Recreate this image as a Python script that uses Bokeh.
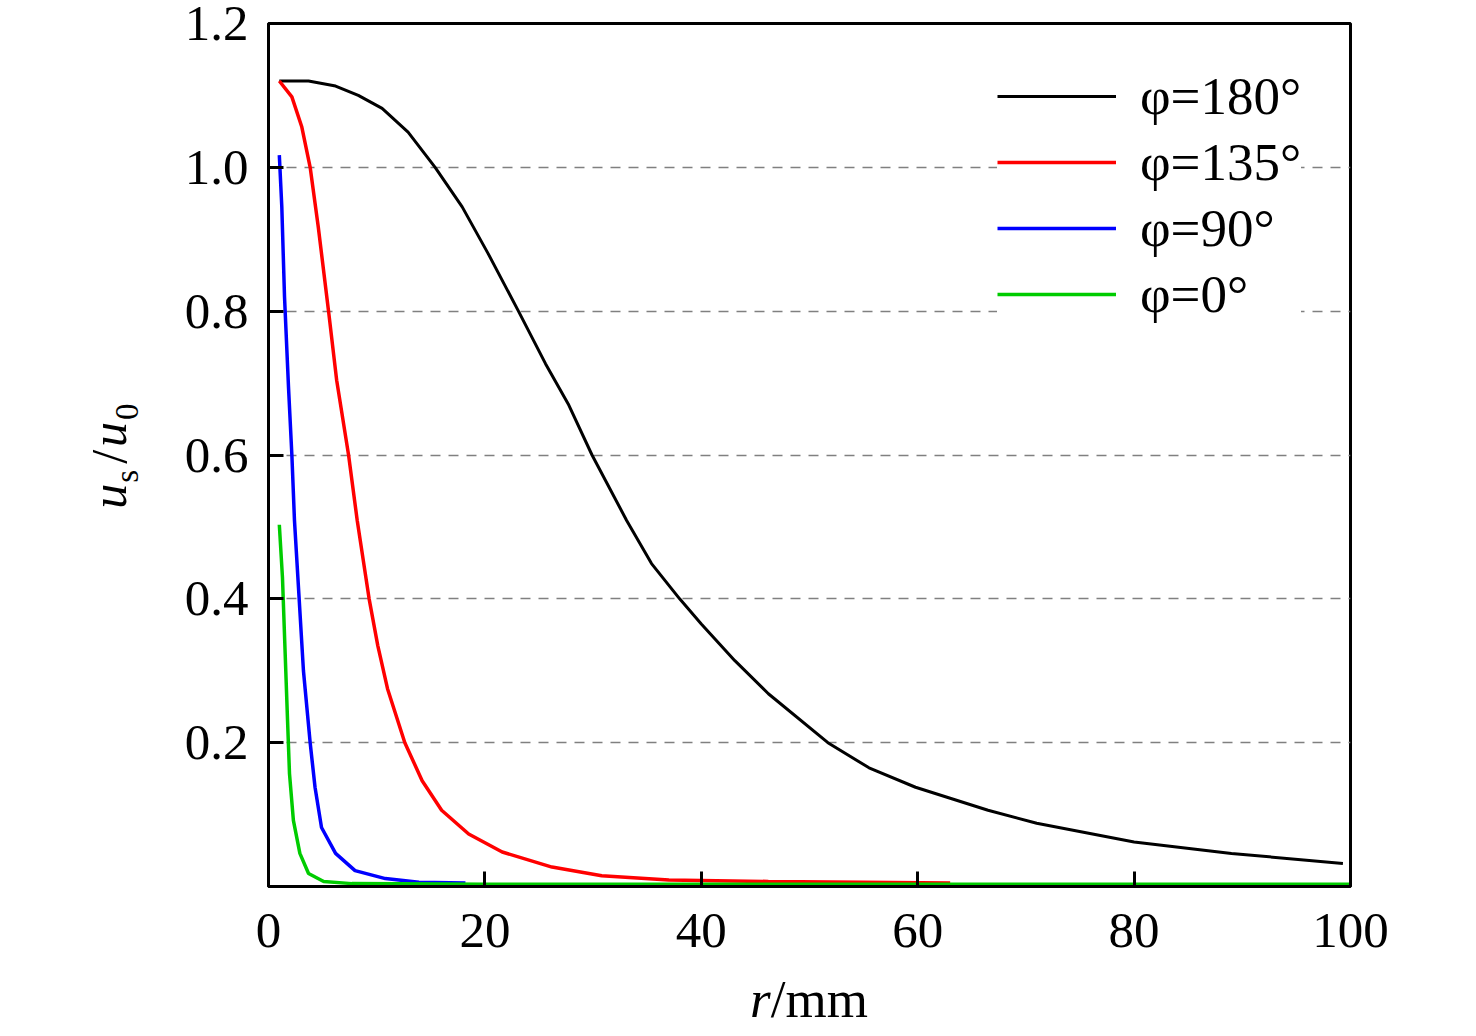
import math
from bokeh.plotting import figure
from bokeh.models import (Range1d, FixedTicker, Legend, LegendItem, Div)
from bokeh.layouts import row, column
from bokeh.embed import file_html
from bokeh.resources import INLINE

# ---- data ----
r_180 = [1.0, 3.7, 6.2, 8.3, 10.5, 12.9, 15.4, 17.9, 20.3, 23.1, 25.6, 27.7, 29.9,
         33.1, 35.4, 38.0, 40.0, 43.1, 46.2, 51.7, 55.5, 59.8, 66.5, 71.0, 80.0, 89.0, 99.3]
u_180 = [1.120, 1.120, 1.113, 1.100, 1.082, 1.049, 1.000, 0.945, 0.880, 0.800, 0.727, 0.671, 0.600,
         0.509, 0.449, 0.400, 0.365, 0.314, 0.268, 0.200, 0.165, 0.138, 0.106, 0.088, 0.062, 0.046, 0.032]

r_135 = [1.0, 2.16, 3.08, 3.85, 4.6, 5.55, 6.3, 7.4, 8.2, 9.3, 10.1, 11.0, 12.6, 14.2, 16.0,
         18.5, 21.6, 26.2, 30.8, 37.0, 46.2, 55.0, 63.0]
u_135 = [1.120, 1.098, 1.056, 1.000, 0.917, 0.800, 0.704, 0.600, 0.509, 0.400, 0.335, 0.275, 0.200,
         0.147, 0.106, 0.073, 0.048, 0.027, 0.015, 0.009, 0.007, 0.006, 0.005]

r_90 = [1.0, 1.23, 1.48, 1.85, 2.16, 2.4, 2.77, 3.23, 3.85, 4.3, 4.9, 6.2, 8.0, 10.8, 13.9, 18.2]
u_90 = [1.017, 0.945, 0.820, 0.694, 0.600, 0.509, 0.416, 0.300, 0.200, 0.138, 0.082, 0.046,
        0.022, 0.011, 0.006, 0.005]

r_0 = [1.0, 1.29, 1.54, 1.76, 1.94, 2.3, 2.9, 3.7, 5.1, 7.7, 20.0, 100.0]
u_0 = [0.503, 0.430, 0.324, 0.231, 0.157, 0.092, 0.046, 0.018, 0.007, 0.004, 0.003, 0.003]

series_labels = ["φ=180°", "φ=135°", "φ=90°", "φ=0°"]
series_colors = ["#000000", "#ff0000", "#0000ff", "#00cc00"]
series_widths = [3, 3.5, 3.5, 3.5]

x_ticks = [0, 20, 40, 60, 80, 100]
x_tick_labels = ["0", "20", "40", "60", "80", "100"]
y_ticks = [0.2, 0.4, 0.6, 0.8, 1.0, 1.2]
y_tick_labels = ["0.2", "0.4", "0.6", "0.8", "1.0", "1.2"]

FONT = "Liberation Serif"
FRAME_W, FRAME_H = 1082, 863
YLAB_W = 150          # width of the column holding the y-axis title
BORDER_L = 268 - YLAB_W
BORDER_T = 23
BORDER_B = 90
BORDER_R = 110
XLAB_H = 50

p = figure(frame_width=FRAME_W, frame_height=FRAME_H,
           x_range=Range1d(0, 100), y_range=Range1d(0, 1.2),
           output_backend="svg", toolbar_location=None,
           min_border_left=BORDER_L, min_border_right=BORDER_R,
           min_border_top=BORDER_T, min_border_bottom=BORDER_B)
p.background_fill_color = "white"
p.border_fill_color = "white"
p.outline_line_color = "black"
p.outline_line_width = 3

for ax in (p.xaxis[0], p.yaxis[0]):
    ax.axis_line_width = 3
    ax.axis_line_color = "black"
    ax.major_tick_in = 15
    ax.major_tick_out = 0
    ax.major_tick_line_width = 3
    ax.major_tick_line_color = "black"
    ax.minor_tick_in = 0
    ax.minor_tick_out = 0
    ax.major_label_text_font = FONT
    ax.major_label_text_font_size = "51px"
    ax.major_label_text_color = "black"

p.xaxis.ticker = FixedTicker(ticks=x_ticks)
p.xaxis.major_label_overrides = {t: s for t, s in zip(x_ticks, x_tick_labels)}
p.xaxis.major_label_standoff = 27
p.yaxis.ticker = FixedTicker(ticks=y_ticks)
p.yaxis.major_label_overrides = {t: s for t, s in zip(y_ticks, y_tick_labels)}
p.yaxis.major_label_standoff = 20

p.xgrid.visible = False
p.ygrid.ticker = FixedTicker(ticks=y_ticks)
p.ygrid.grid_line_color = "#808080"
p.ygrid.grid_line_width = 1.5
p.ygrid.grid_line_dash = "10 8"

renderers = []
for rr, uu, col, lw in zip([r_180, r_135, r_90, r_0], [u_180, u_135, u_90, u_0],
                           series_colors, series_widths):
    renderers.append(p.line(rr, uu, line_color=col, line_width=lw))

legend = Legend(items=[LegendItem(label=lab, renderers=[rd]) for lab, rd in zip(series_labels, renderers)],
                location=(729, 562))
legend.background_fill_color = "white"
legend.background_fill_alpha = 1.0
legend.border_line_color = None
legend.glyph_width = 119
legend.glyph_height = 60
legend.label_height = 60
legend.spacing = 6
legend.padding = 8
legend.margin = 0
legend.label_standoff = 24
legend.label_text_font = FONT
legend.label_text_font_size = "53px"
legend.label_text_color = "black"
legend.label_text_baseline = "middle"
p.add_layout(legend)

PLOT_H = BORDER_T + FRAME_H + BORDER_B
PLOT_W = BORDER_L + FRAME_W + BORDER_R

# y-axis title: u_s / u_0 (italic variables, upright subscripts), rotated
ytitle_html = (
    f'<div style="position:relative;width:{YLAB_W}px;height:{PLOT_H + XLAB_H}px;">'
    '<div style="position:absolute;left:112px;top:456px;'
    'transform:translate(-50%,-50%) rotate(-90deg);white-space:nowrap;'
    f'font-family:\'{FONT}\',serif;font-size:50px;line-height:50px;color:#000;">'
    '<i>u</i>'
    '<span style="font-size:33px;position:relative;top:12px;margin-left:1px;margin-right:3px;">s</span>'
    '<span style="margin:0 3px;">/</span>'
    '<i>u</i>'
    '<span style="font-size:33px;position:relative;top:12px;margin-left:2px;">0</span>'
    '</div></div>'
)
ydiv = Div(text=ytitle_html, width=YLAB_W, height=PLOT_H + XLAB_H, margin=0)

# x-axis title: r/mm (italic r)
xtitle_html = (
    f'<div style="position:relative;width:{PLOT_W}px;height:{XLAB_H}px;">'
    f'<div style="position:absolute;left:{809 - YLAB_W}px;top:-3px;transform:translateX(-50%);'
    f'white-space:nowrap;font-family:\'{FONT}\',serif;font-size:53px;line-height:53px;color:#000;">'
    '<i>r</i>/mm</div></div>'
)
xdiv = Div(text=xtitle_html, width=PLOT_W, height=XLAB_H, margin=0)

layout = row(ydiv, column(p, xdiv, spacing=0), spacing=0)

open("out.html", "w").write(file_html(layout, INLINE))
